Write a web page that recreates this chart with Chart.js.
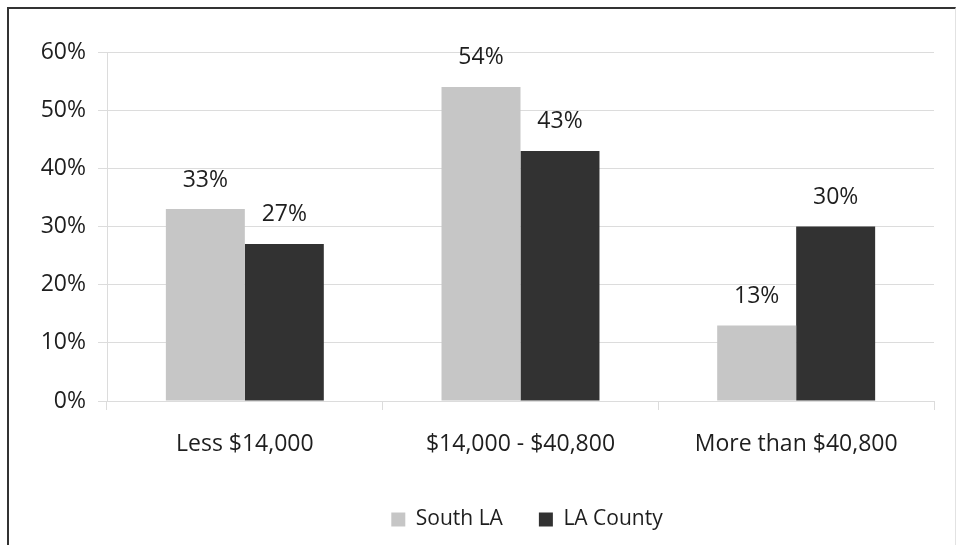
<!DOCTYPE html>
<html>
<head>
<meta charset="utf-8">
<script src="https://cdn.jsdelivr.net/npm/chart.js@4/dist/chart.umd.min.js"></script>
<style>
  html, body { margin: 0; padding: 0; background: #fff; }
  #frame {
    position: absolute; left: 7px; top: 7px; width: 946px; height: 545px;
    border-top: 2px solid #333; border-left: 2px solid #333; border-right: 1px solid #e2e2e2;
  }
  #wrap { position: absolute; left: 0; top: 0; width: 956px; height: 545px; }
</style>
</head>
<body>
<div id="frame"></div>
<div id="wrap"><canvas id="c" width="956" height="545"></canvas></div>
<script>
// Household income brackets
const categories = ['Less $14,000', '$14,000 - $40,800', 'More than $40,800'];
const southLA = [33, 54, 13];
const laCounty = [27, 43, 30];
const yTicks = [0, 10, 20, 30, 40, 50, 60];

const FONT = "'Open Sans', sans-serif";
const FSIZE = 23;
const TEXT = '#1e1e1e';
const GRID = '#dcdcdc';

// Percent labels above each bar, placed from the bar elements themselves
const valueLabels = {
  id: 'valueLabels',
  afterDatasetsDraw(chart) {
    const ctx = chart.ctx;
    ctx.save();
    ctx.font = FSIZE + 'px ' + FONT;
    ctx.fillStyle = TEXT;
    ctx.textAlign = 'center';
    ctx.textBaseline = 'middle';
    chart.data.datasets.forEach((ds, i) => {
      chart.getDatasetMeta(i).data.forEach((bar, j) => {
        ctx.fillText(ds.data[j] + '%', bar.x, bar.y - 29);
      });
    });
    ctx.restore();
  }
};

// Nudge the legend row to the right of centre
const legendShift = {
  id: 'legendShift',
  afterLayout(chart) {
    if (chart.legend) {
      chart.legend.left += 60;
      chart.legend.right += 60;
    }
  }
};

new Chart(document.getElementById('c'), {
  type: 'bar',
  data: {
    labels: categories,
    datasets: [
      { label: 'South LA', data: southLA, backgroundColor: '#c6c6c6' },
      { label: 'LA County', data: laCounty, backgroundColor: '#323232' }
    ]
  },
  options: {
    responsive: false,
    animation: false,
    devicePixelRatio: 1,
    layout: { padding: { left: 0, right: 22, top: 52, bottom: 5 } },
    datasets: { bar: { categoryPercentage: 0.573, barPercentage: 1 } },
    scales: {
      x: {
        grid: { display: true, drawOnChartArea: false, drawTicks: true, tickLength: 9, color: GRID },
        border: { display: false },
        ticks: { font: { family: FONT, size: FSIZE }, color: TEXT, padding: 21 },
        afterFit(scale) { scale.height = 72; }
      },
      y: {
        min: 0, max: 60,
        afterBuildTicks(scale) { scale.ticks = yTicks.map(v => ({ value: v })); },
        grid: { color: GRID, drawTicks: true, tickLength: 9 },
        border: { display: true, color: GRID },
        ticks: { font: { family: FONT, size: FSIZE }, color: TEXT, padding: 12, callback: v => v + '%' },
        afterFit(scale) { scale.width = 107; }
      }
    },
    plugins: {
      legend: {
        position: 'bottom',
        labels: { font: { family: FONT, size: 21 }, color: TEXT, boxWidth: 14, boxHeight: 14, padding: 36 }
      },
      tooltip: { enabled: false }
    }
  },
  plugins: [valueLabels, legendShift]
});
</script>
</body>
</html>
